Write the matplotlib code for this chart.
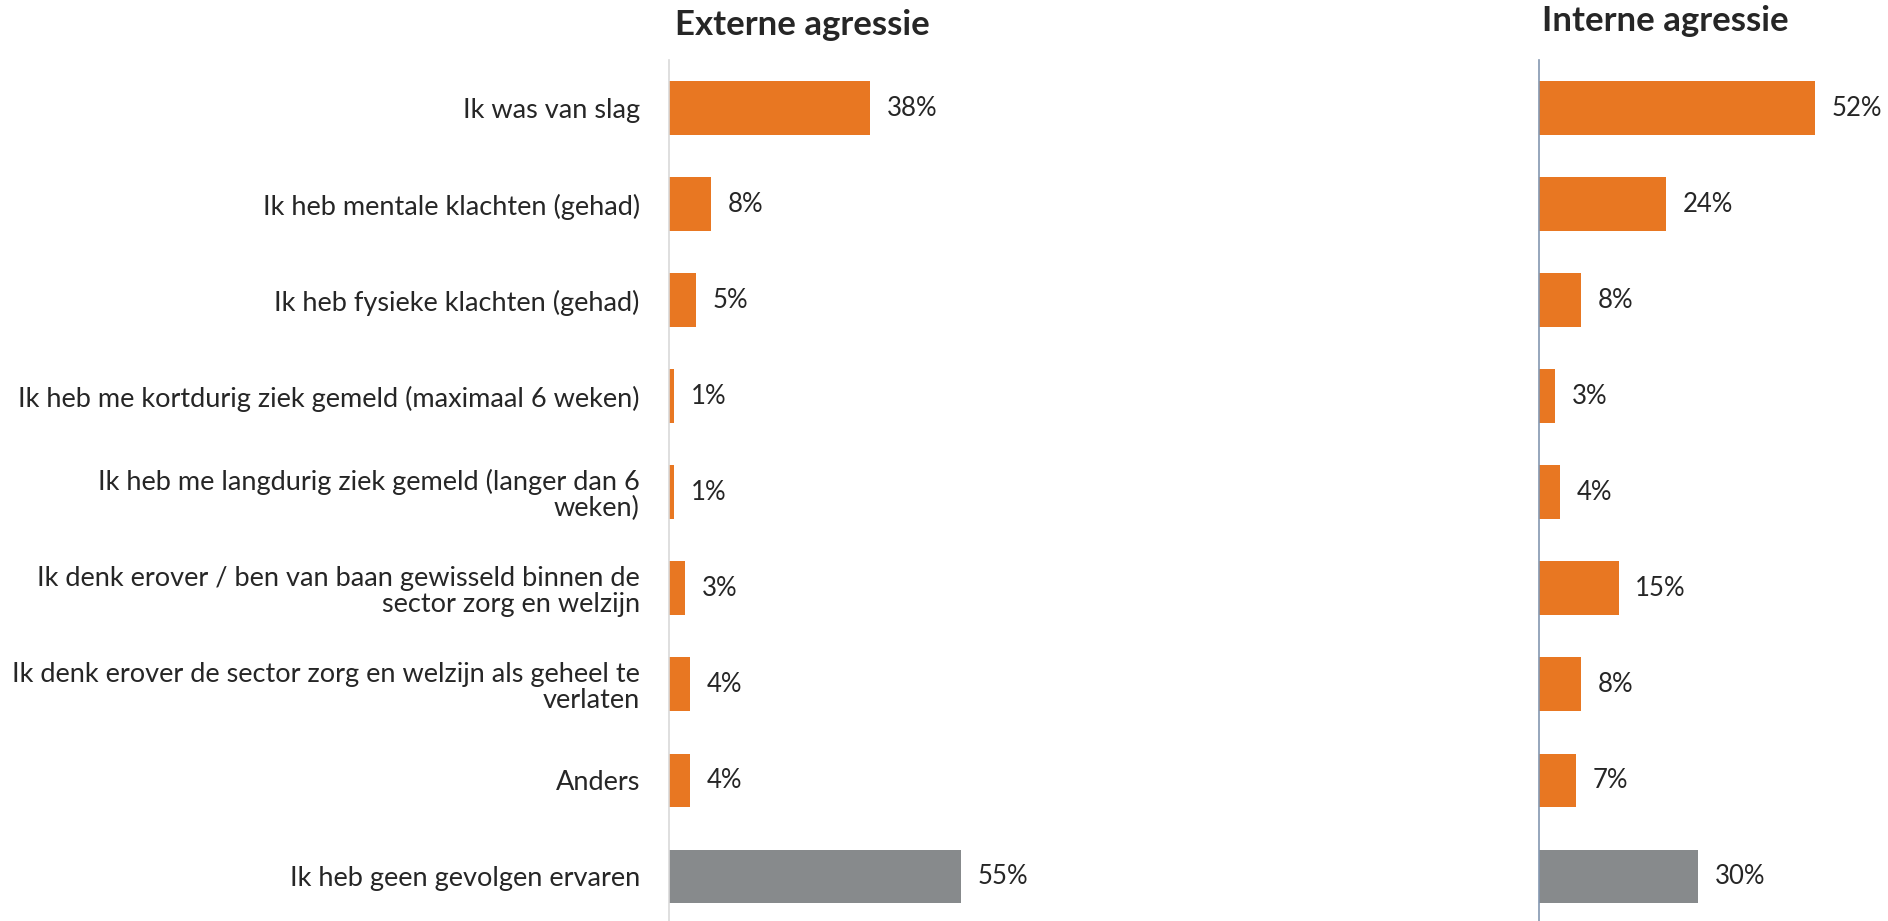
import matplotlib
matplotlib.use("Agg")
import matplotlib.pyplot as plt

plt.rcParams['font.family'] = ['Lato', 'DejaVu Sans']

categories = [
    "Ik was van slag",
    "Ik heb mentale klachten (gehad)",
    "Ik heb fysieke klachten (gehad)",
    "Ik heb me kortdurig ziek gemeld (maximaal 6 weken)",
    "Ik heb me langdurig ziek gemeld (langer dan 6\nweken)",
    "Ik denk erover / ben van baan gewisseld binnen de\nsector zorg en welzijn",
    "Ik denk erover de sector zorg en welzijn als geheel te\nverlaten",
    "Anders",
    "Ik heb geen gevolgen ervaren",
]
externe = [38, 8, 5, 1, 1, 3, 4, 4, 55]
interne = [52, 24, 8, 3, 4, 15, 8, 7, 30]
titles = ["Externe agressie", "Interne agressie"]

oranje = "#E87722"
grijs = "#878A8C"
tekst = "#262626"
kleuren = [oranje] * 8 + [grijs]

W, H = 1888, 921
fig = plt.figure(figsize=(W / 100, H / 100), dpi=100)

# axes in pixel coordinates (links, rechts)
ax1 = fig.add_axes([669 / W, -3.5 / H, 318 / W, 864.5 / H])
ax2 = fig.add_axes([1539 / W, -3.5 / H, 318 / W, 864.5 / H])

pos = list(range(len(categories)))

for ax, vals, spinekleur in [(ax1, externe, "#D9D9D9"), (ax2, interne, "#8497B0")]:
    ax.barh(pos, vals, height=0.56, color=kleuren)
    ax.set_xlim(0, 60)
    ax.set_ylim(len(categories) - 0.5, -0.5)
    for s in ["top", "right", "bottom"]:
        ax.spines[s].set_visible(False)
    ax.spines["left"].set_color(spinekleur)
    ax.spines["left"].set_linewidth(1.2)
    ax.set_xticks([])
    ax.tick_params(axis="y", length=0)
    for i, v in enumerate(vals):
        ax.annotate(f"{v}%", xy=(v, i), xytext=(12, 0), textcoords="offset points",
                    va="center", ha="left", fontsize=18.5, color=tekst, annotation_clip=False)

ax1.set_yticks(pos)
ax1.set_yticklabels(categories, fontsize=19.5, color=tekst, linespacing=1.05)
ax1.tick_params(axis="y", pad=21)
ax2.set_yticks([])

fig.text(802 / W, 1 - 25 / H, titles[0], ha="center", va="center",
         fontsize=25, fontweight="bold", color=tekst)
fig.text(1665 / W, 1 - 21 / H, titles[1], ha="center", va="center",
         fontsize=25, fontweight="bold", color=tekst)

fig.savefig("out.png", dpi=100)
